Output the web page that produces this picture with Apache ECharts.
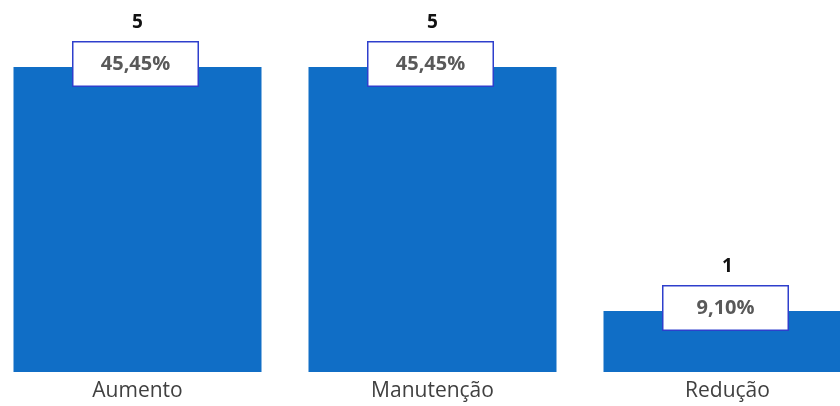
<!DOCTYPE html>
<html><head><meta charset="utf-8">
<script src="https://cdn.jsdelivr.net/npm/echarts@6/dist/echarts.min.js"></script>
<style>html,body{margin:0;padding:0;background:#fff;overflow:hidden;width:840px;height:406px;position:relative}#c{position:absolute;left:-10.5px;top:0;width:885px;height:406px}</style>
</head><body><div id="c"></div>
<script>
const categories = ['Aumento', 'Manutenção', 'Redução'];
const counts = [5, 5, 1];
const percentLabels = ['45,45%', '45,45%', '9,10%'];

const chart = echarts.init(document.getElementById('c'));
chart.setOption({
  animation: false,
  grid: { left: 0, right: 0, top: 67, bottom: 34, containLabel: false },
  xAxis: {
    type: 'category', data: categories,
    axisLine: { show: false }, axisTick: { show: false },
    axisLabel: { color: '#404040', fontSize: 21, fontFamily: 'Open Sans', margin: 9 }
  },
  yAxis: { type: 'value', min: 0, max: 5, show: false, splitLine: { show: false } },
  series: [
    {
      type: 'bar', data: counts, barWidth: 248,
      itemStyle: { color: '#106EC6' },
      label: {
        show: true, position: 'top', distance: 35,
        color: '#111', fontWeight: 'bold', fontSize: 19, fontFamily: 'Open Sans'
      }
    },
    {
      type: 'bar', data: counts, barWidth: 248, barGap: '-100%',
      itemStyle: { color: 'transparent' }, silent: true,
      label: {
        show: true, position: ['50%', 0], offset: [-2, -3],
        align: 'center', verticalAlign: 'middle',
        formatter: p => percentLabels[p.dataIndex],
        color: '#595959', fontWeight: 'bold', fontSize: 20, fontFamily: 'Open Sans',
        backgroundColor: '#fff', borderColor: '#2E3FCC', borderWidth: 1.5,
        width: 124, height: 43, lineHeight: 43
      }
    }
  ]
});
</script></body></html>
